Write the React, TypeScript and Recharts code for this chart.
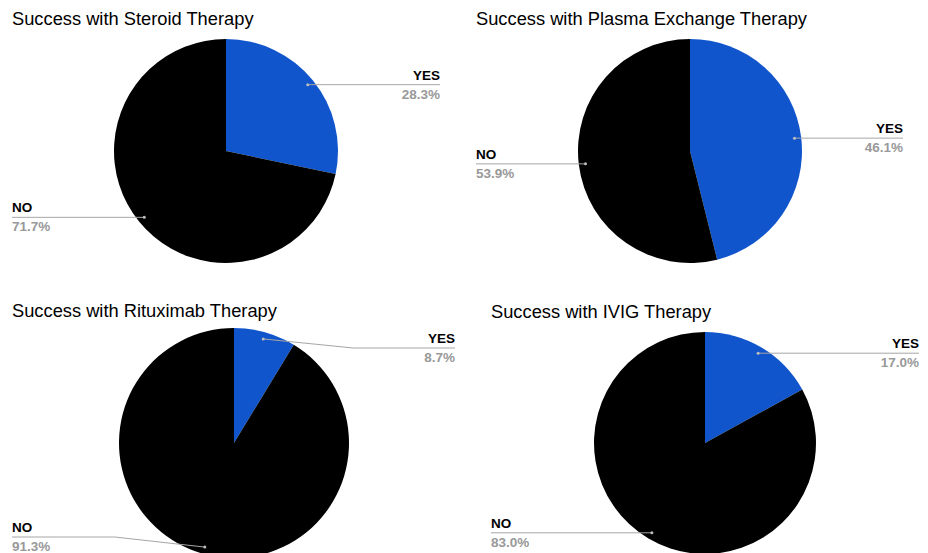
import { PieChart, Pie, Cell } from 'recharts';

const therapies = ['Steroid', 'Plasma Exchange', 'Rituximab', 'IVIG'];
const categories = ['YES', 'NO'];
const yesShare = [28.3, 46.1, 8.7, 17.0];
const noShare = [71.7, 53.9, 91.3, 83.0];

const COLORS = ['#1155cc', '#000000'];
const RADIAN = Math.PI / 180;
const FONT = '"Liberation Sans", Arial, sans-serif';

// placement of each of the four pies on the page
const layout = [
  { left: 0, top: 0, width: 452, height: 280, cx: 226, cy: 151, r: 112, labelLeft: 12, labelRight: 440, titleTop: 10 },
  { left: 464, top: 0, width: 451, height: 280, cx: 226, cy: 151, r: 112, labelLeft: 12, labelRight: 439, titleTop: 10 },
  { left: 0, top: 290, width: 467, height: 263, cx: 234, cy: 153, r: 115, labelLeft: 12, labelRight: 455, titleTop: 12 },
  { left: 479, top: 290, width: 449, height: 263, cx: 226, cy: 153, r: 111, labelLeft: 12, labelRight: 440, titleTop: 13 },
];

const LINE_MIN = 58;
const LINE_MAX = 247;

function makeLabel(box: (typeof layout)[number]) {
  return (props: any) => {
    const { cx, cy, midAngle, outerRadius, name, value } = props;
    const d = outerRadius * 0.94;
    const dx = cx + d * Math.cos(-midAngle * RADIAN);
    const dy = cy + d * Math.sin(-midAngle * RADIAN);
    const right = dx > cx;
    const ly = Math.min(LINE_MAX, Math.max(LINE_MIN, dy));
    const endX = right ? box.labelRight : box.labelLeft;
    const elbowX = ly === dy ? dx : dx + (right ? 90 : -90);
    return (
      <g>
        <polyline
          points={`${dx},${dy} ${elbowX},${ly} ${endX},${ly}`}
          fill="none"
          stroke="#a6a6a6"
          strokeWidth={1}
        />
        <circle cx={dx} cy={dy} r={1.5} fill="#bdbdbd" />
        <text
          x={endX}
          y={ly - 5}
          textAnchor={right ? 'end' : 'start'}
          fontFamily={FONT}
          fontSize={13.5}
          fontWeight="bold"
          fill="#000"
        >
          {name}
        </text>
        <text
          x={endX}
          y={ly + 14}
          textAnchor={right ? 'end' : 'start'}
          fontFamily={FONT}
          fontSize={13.5}
          fontWeight="bold"
          fill="#999999"
        >
          {value.toFixed(1)}%
        </text>
      </g>
    );
  };
}

export default function App() {
  return (
    <div
      style={{
        position: 'absolute',
        left: 0,
        top: 0,
        width: 928,
        height: 553,
        overflow: 'hidden',
        background: '#fff',
      }}
    >
      {therapies.map((t, i) => {
        const box = layout[i];
        const data = categories.map((c, j) => ({
          name: c,
          value: j === 0 ? yesShare[i] : noShare[i],
        }));
        return (
          <div
            key={t}
            style={{ position: 'absolute', left: box.left, top: box.top, width: box.width, height: box.height }}
          >
            <PieChart width={box.width} height={box.height} margin={{ top: 0, right: 0, bottom: 0, left: 0 }}>
              <Pie
                data={data}
                dataKey="value"
                nameKey="name"
                cx={box.cx}
                cy={box.cy}
                outerRadius={box.r}
                startAngle={90}
                endAngle={-270}
                stroke="none"
                label={makeLabel(box)}
                labelLine={false}
                isAnimationActive={false}
              >
                {data.map((_, j) => (
                  <Cell key={j} fill={COLORS[j]} />
                ))}
              </Pie>
            </PieChart>
            <div
              style={{
                position: 'absolute',
                left: box.labelLeft,
                top: box.titleTop,
                fontFamily: FONT,
                fontSize: 18.3,
                lineHeight: '18px',
                color: '#000',
                whiteSpace: 'nowrap',
              }}
            >
              Success with {t} Therapy
            </div>
          </div>
        );
      })}
    </div>
  );
}
